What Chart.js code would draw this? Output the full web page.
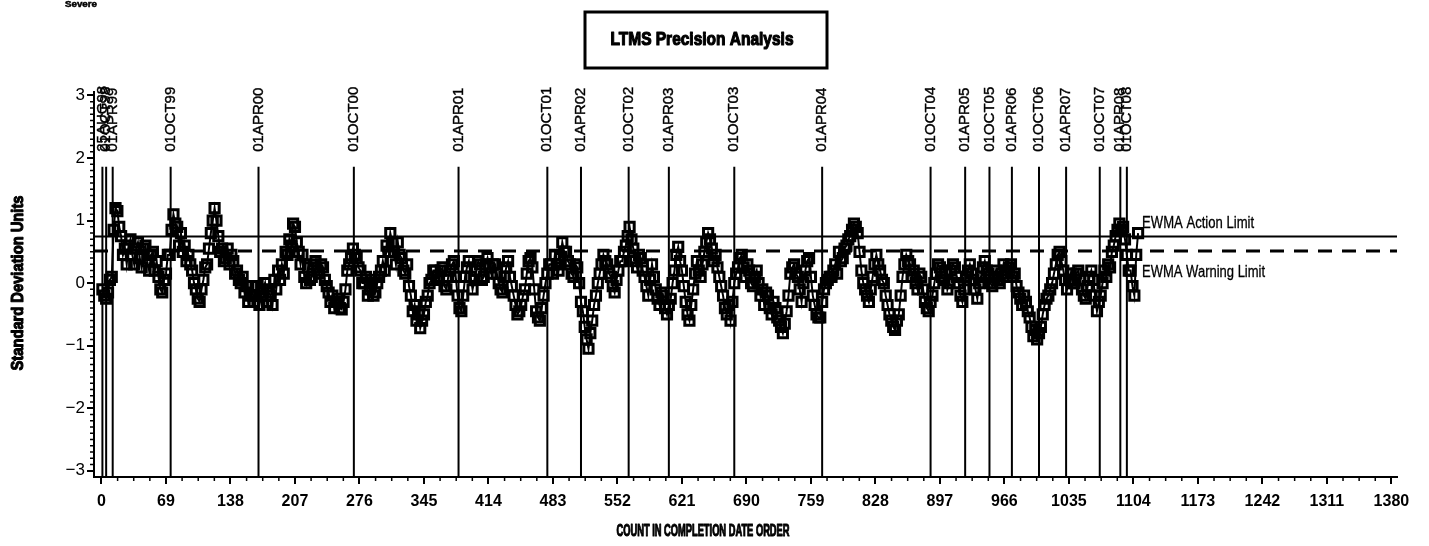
<!DOCTYPE html>
<html>
<head>
<meta charset="utf-8">
<script src="https://cdn.jsdelivr.net/npm/chart.js@4"></script>
<style>
  html, body { margin: 0; padding: 0; background: #fff; }
  #wrap { width: 1429px; height: 546px; }
</style>
</head>
<body>
<div id="wrap"><canvas id="ewmaChart" width="1429" height="546"></canvas></div>
<script>
// EWMA series, one value every STEP tests in completion order
const FIRST_COUNT = 1;
const STEP = 2;
const ewma = [
  -0.1, -0.2, -0.25, -0.15, 0.05, 0.1, 0.85, 1.2, 1.15, 0.9,
  0.75, 0.45, 0.55, 0.3, 0.6, 0.7, 0.45, 0.3, 0.55, 0.65,
  0.4, 0.25, 0.55, 0.6, 0.35, 0.2, 0.45, 0.5, 0.2, 0.35,
  0.1, -0.1, -0.15, 0.05, 0.15, 0.45, 0.45, 0.85, 1.1, 0.95,
  0.9, 0.6, 0.8, 0.5, 0.6, 0.35, 0.45, 0.3, 0.2, 0.0,
  -0.1, -0.25, -0.3, -0.1, 0.05, 0.25, 0.3, 0.55, 0.8, 1.0,
  1.2, 1.0, 0.75, 0.5, 0.55, 0.35, 0.4, 0.55, 0.3, 0.45,
  0.35, 0.15, 0.2, 0.05, 0.0, 0.1, -0.15, -0.05, -0.3, -0.2,
  -0.05, -0.3, -0.2, -0.05, -0.35, -0.2, -0.1, 0.0, -0.3, -0.15,
  -0.2, -0.35, 0.05, -0.1, 0.2, 0.05, 0.3, 0.15, 0.5, 0.45,
  0.7, 0.6, 0.95, 0.9, 0.65, 0.5, 0.3, 0.45, 0.1, 0.0,
  0.25, 0.05, 0.1, 0.3, 0.35, 0.2, 0.15, 0.3, 0.25, 0.05,
  -0.05, -0.15, -0.3, -0.2, -0.4, -0.3, -0.25, -0.4, -0.42, -0.3,
  -0.1, 0.2, 0.3, 0.4, 0.55, 0.45, 0.4, 0.25, 0.2, 0.0,
  0.0, 0.1, -0.2, -0.1, 0.05, -0.2, -0.15, 0.0, 0.1, 0.2,
  0.35, 0.2, 0.6, 0.5, 0.8, 0.65, 0.5, 0.3, 0.65, 0.45,
  0.4, 0.2, 0.15, 0.3, -0.05, -0.2, -0.45, -0.35, -0.6, -0.5,
  -0.72, -0.6, -0.5, -0.3, -0.2, 0.0, 0.05, 0.2, 0.2, 0.1,
  0.05, 0.2, 0.25, -0.05, -0.1, 0.1, 0.2, 0.3, 0.35, 0.1,
  -0.2, -0.4, -0.45, -0.2, 0.1, 0.25, 0.35, 0.1, -0.1, 0.05,
  0.2, 0.35, 0.3, 0.05, 0.1, 0.3, 0.4, 0.25, 0.15, 0.3,
  0.3, 0.15, 0.0, -0.1, -0.15, 0.1, 0.25, 0.35, 0.1, -0.05,
  -0.2, -0.35, -0.5, -0.45, -0.35, -0.2, -0.1, 0.15, 0.35, 0.4,
  0.25, -0.1, -0.45, -0.55, -0.6, -0.4, -0.2, 0.0, 0.15, 0.3,
  0.3, 0.15, 0.45, 0.3, 0.2, 0.4, 0.65, 0.5, 0.5, 0.35,
  0.3, 0.15, 0.1, 0.3, 0.25, 0.0, -0.3, -0.45, -0.7, -0.9,
  -1.05, -0.8, -0.6, -0.35, -0.2, 0.0, 0.15, 0.3, 0.45, 0.35,
  0.3, 0.15, 0.1, -0.05, -0.15, 0.05, 0.2, 0.35, 0.35, 0.5,
  0.6, 0.75, 0.9, 0.7, 0.55, 0.35, 0.25, 0.45, 0.4, 0.2,
  0.1, -0.05, -0.2, 0.05, 0.3, 0.1, -0.1, -0.25, -0.35, -0.15,
  -0.2, -0.4, -0.5, -0.35, -0.25, 0.0, 0.2, 0.45, 0.58, 0.35,
  0.2, -0.05, -0.3, -0.5, -0.6, -0.35, -0.1, 0.15, 0.35, 0.2,
  0.1, 0.3, 0.5, 0.65, 0.8, 0.7, 0.55, 0.35, 0.45, 0.25,
  0.1, -0.05, -0.2, -0.4, -0.5, -0.35, -0.6, -0.3, 0.0, 0.15,
  0.25, 0.4, 0.45, 0.25, 0.1, 0.3, 0.2, 0.0, -0.05, 0.1,
  0.2, 0.0, -0.2, -0.1, -0.35, -0.15, -0.2, -0.4, -0.5, -0.3,
  -0.4, -0.55, -0.6, -0.7, -0.8, -0.65, -0.45, -0.2, 0.15, 0.25,
  0.3, 0.15, 0.1, -0.1, -0.3, 0.0, 0.2, 0.35, 0.4, 0.1,
  -0.2, -0.35, -0.5, -0.55, -0.55, -0.3, -0.1, 0.0, 0.05, 0.1,
  0.1, 0.2, 0.3, 0.15, 0.5, 0.35, 0.4, 0.55, 0.6, 0.7,
  0.75, 0.85, 0.95, 0.9, 0.8, 0.5, 0.2, 0.0, -0.1, -0.2,
  -0.3, -0.1, 0.1, 0.3, 0.45, 0.3, 0.2, 0.05, 0.0, -0.2,
  -0.35, -0.5, -0.6, -0.7, -0.75, -0.6, -0.5, -0.2, 0.1, 0.3,
  0.45, 0.35, 0.3, 0.1, 0.2, 0.0, -0.1, 0.15, 0.1, -0.1,
  -0.3, -0.4, -0.45, -0.3, -0.2, 0.0, 0.15, 0.3, 0.25, 0.1,
  0.05, 0.2, -0.1, 0.0, 0.2, 0.3, 0.25, 0.1, 0.0, -0.2,
  -0.3, -0.1, 0.1, 0.2, 0.3, 0.15, 0.05, -0.1, -0.25, 0.0,
  0.1, 0.25, 0.35, 0.2, 0.15, 0.0, -0.05, 0.1, 0.2, 0.05,
  0.0, 0.15, 0.3, 0.2, 0.1, 0.25, 0.3, 0.1, 0.15, -0.05,
  -0.15, -0.25, -0.35, -0.2, -0.3, -0.45, -0.55, -0.7, -0.85, -0.75,
  -0.9, -0.8, -0.7, -0.5, -0.35, -0.25, -0.2, -0.1, 0.0, 0.15,
  0.3, 0.45, 0.5, 0.35, 0.2, 0.05, -0.1, 0.05, 0.15, 0.0,
  0.0, 0.15, 0.2, 0.05, -0.1, -0.2, -0.25, -0.05, 0.1, 0.2,
  0.05, -0.2, -0.45, -0.3, -0.2, 0.0, 0.2, 0.1, 0.3, 0.25,
  0.5, 0.6, 0.75, 0.85, 0.95, 0.85, 0.9, 0.7, 0.45, 0.2,
  0.2, -0.05, -0.2, 0.45, 0.8
];

// date reference lines (count at which each date starts)
const dateLabels = [
  "25AUG98", "01OCT98", "01APR99", "01OCT99", "01APR00", "01OCT00",
  "01APR01", "01OCT01", "01APR02", "01OCT02", "01APR03", "01OCT03",
  "01APR04", "01OCT04", "01APR05", "01OCT05", "01APR06", "01OCT06",
  "01APR07", "01OCT07", "01APR08", "01OCT08"
];
const dateCounts = [
  1, 5, 12, 74, 168, 270,
  382, 477, 513, 564, 607, 677,
  771, 887, 924, 950, 974, 1003,
  1032, 1068, 1090, 1097
];

// limits
const actionLimit = 0.745;
const warningLimit = 0.515;

// axis ticks
const xTicks = [0, 69, 138, 207, 276, 345, 414, 483, 552, 621, 690, 759, 828, 897, 966, 1035, 1104, 1173, 1242, 1311, 1380];
const yTicks = [-3, -2, -1, 0, 1, 2, 3];

const points = ewma.map((v, i) => ({ x: FIRST_COUNT + i * STEP, y: v }));

const NARROW = '"Liberation Sans Narrow", "Liberation Sans", Arial, sans-serif';
const SANS = '"Liberation Sans", Arial, sans-serif';

// text squeezed to a given width (SAS style condensed fonts); heavy adds an outline
function fitText(ctx, text, cx, cy, font, width, align, angle, heavy) {
  ctx.save();
  ctx.font = font;
  const w = ctx.measureText(text).width;
  const sx = width / w;
  ctx.translate(cx, cy);
  if (angle) ctx.rotate(angle);
  ctx.scale(sx, 1);
  ctx.textAlign = align || 'center';
  ctx.textBaseline = 'middle';
  ctx.fillStyle = '#000';
  ctx.fillText(text, 0, 0);
  if (heavy) {
    ctx.strokeStyle = '#000';
    ctx.lineWidth = heavy;
    ctx.lineJoin = 'round';
    ctx.strokeText(text, 0, 0);
  }
  ctx.restore();
}

const decorations = {
  id: 'decorations',
  beforeDatasetsDraw(chart) {
    const { ctx, chartArea, scales: { x, y } } = chart;
    ctx.save();
    ctx.strokeStyle = '#000';

    // action limit (solid) and warning limit (dashed)
    ctx.lineWidth = 2;
    let py = y.getPixelForValue(actionLimit);
    ctx.beginPath();
    ctx.moveTo(chartArea.left, py);
    ctx.lineTo(chartArea.right, py);
    ctx.stroke();

    ctx.lineWidth = 3;
    ctx.setLineDash([14, 10]);
    py = y.getPixelForValue(warningLimit);
    ctx.beginPath();
    ctx.moveTo(chartArea.left, py);
    ctx.lineTo(chartArea.right, py);
    ctx.stroke();
    ctx.setLineDash([]);

    // date lines
    ctx.lineWidth = 2;
    const lineTop = y.getPixelForValue(1.86);
    ctx.font = '15px ' + SANS;
    ctx.fillStyle = '#000';
    ctx.textAlign = 'left';
    ctx.textBaseline = 'middle';
    ctx.lineWidth = 2;
    dateCounts.forEach((c, i) => {
      const px = x.getPixelForValue(c);
      ctx.beginPath();
      ctx.moveTo(px, lineTop);
      ctx.lineTo(px, chartArea.bottom);
      ctx.stroke();
      ctx.save();
      ctx.translate(px, lineTop - 15);
      ctx.rotate(-Math.PI / 2);
      ctx.fillText(dateLabels[i], 0, 0);
      ctx.lineWidth = 0.4;
      ctx.strokeText(dateLabels[i], 0, 0);
      ctx.restore();
    });
    ctx.restore();
  },
  afterDraw(chart) {
    const { ctx, chartArea, scales: { x, y } } = chart;
    ctx.save();
    ctx.strokeStyle = '#000';
    ctx.lineWidth = 1.5;

    // minor ticks
    ctx.beginPath();
    for (let k = 1; k < 80; k++) {
      if (k % 4 === 0) continue;
      const px = x.getPixelForValue(k * 17.25);
      ctx.moveTo(px, chartArea.bottom);
      ctx.lineTo(px, chartArea.bottom + 4);
    }
    for (let k = -30; k <= 30; k++) {
      if (k % 10 === 0) continue;
      const py = y.getPixelForValue(k / 10);
      ctx.moveTo(chartArea.left, py);
      ctx.lineTo(chartArea.left - 4, py);
    }
    ctx.stroke();

    // limit labels
    const lastX = x.getPixelForValue(points[points.length - 1].x) + 4;
    fitText(ctx, 'EWMA Action Limit', lastX, 224, '16px ' + NARROW, 112, 'left', 0, 0.3);
    fitText(ctx, 'EWMA Warning Limit', lastX, 273, '16px ' + NARROW, 123, 'left', 0, 0.3);

    // title box
    ctx.lineWidth = 3;
    ctx.strokeRect(585, 12, 242, 56);
    fitText(ctx, 'LTMS Precision Analysis', 702, 40, 'bold 19px ' + NARROW, 183, 'center', 0, 1.2);

    fitText(ctx, 'Severe', 81, 5, 'bold 9px ' + NARROW, 32, 'center', 0, 0.5);

    // axis titles
    fitText(ctx, 'COUNT IN COMPLETION DATE ORDER', 703, 532, 'bold 16px ' + NARROW, 173, 'center', 0, 1.1);
    fitText(ctx, 'Standard Deviation Units', 18, 283, 'bold 17px ' + NARROW, 175, 'center', -Math.PI / 2, 1.1);
    ctx.restore();
  }
};

new Chart(document.getElementById('ewmaChart'), {
  type: 'line',
  data: {
    datasets: [{
      data: points,
      borderColor: '#000',
      borderWidth: 2,
      pointStyle: 'rect',
      pointRadius: 6.5,
      pointBorderWidth: 3,
      pointBorderColor: '#000',
      pointBackgroundColor: 'rgba(255,255,255,0)',
      tension: 0
    }]
  },
  options: {
    responsive: false,
    animation: false,
    events: [],
    layout: { padding: { top: 92, right: 32, left: 0, bottom: 0 } },
    plugins: { legend: { display: false }, tooltip: { enabled: false } },
    scales: {
      x: {
        type: 'linear',
        min: -8,
        max: 1386,
        afterBuildTicks: s => { s.ticks = xTicks.map(v => ({ value: v })); },
        afterFit: s => { s.height = 69; },
        border: { display: true, color: '#000', width: 2 },
        grid: { display: true, drawOnChartArea: false, drawTicks: true, tickLength: 7, color: '#000', lineWidth: 2 },
        ticks: {
          color: '#000',
          padding: 8,
          maxRotation: 0,
          autoSkip: false,
          callback: v => String(v),
          font: { family: NARROW, size: 16, weight: 'bold' }
        }
      },
      y: {
        min: -3.1,
        max: 3.055,
        afterBuildTicks: s => { s.ticks = yTicks.map(v => ({ value: v })); },
        afterFit: s => { s.width = 94; },
        border: { display: true, color: '#000', width: 2 },
        grid: { display: true, drawOnChartArea: false, drawTicks: true, tickLength: 7, color: '#000', lineWidth: 2 },
        ticks: {
          color: '#000',
          padding: 2,
          autoSkip: false,
          callback: v => (v < 0 ? '\u2212' + Math.abs(v) : String(v)),
          font: { family: SANS, size: 17 }
        }
      }
    }
  },
  plugins: [decorations]
});
</script>
</body>
</html>
